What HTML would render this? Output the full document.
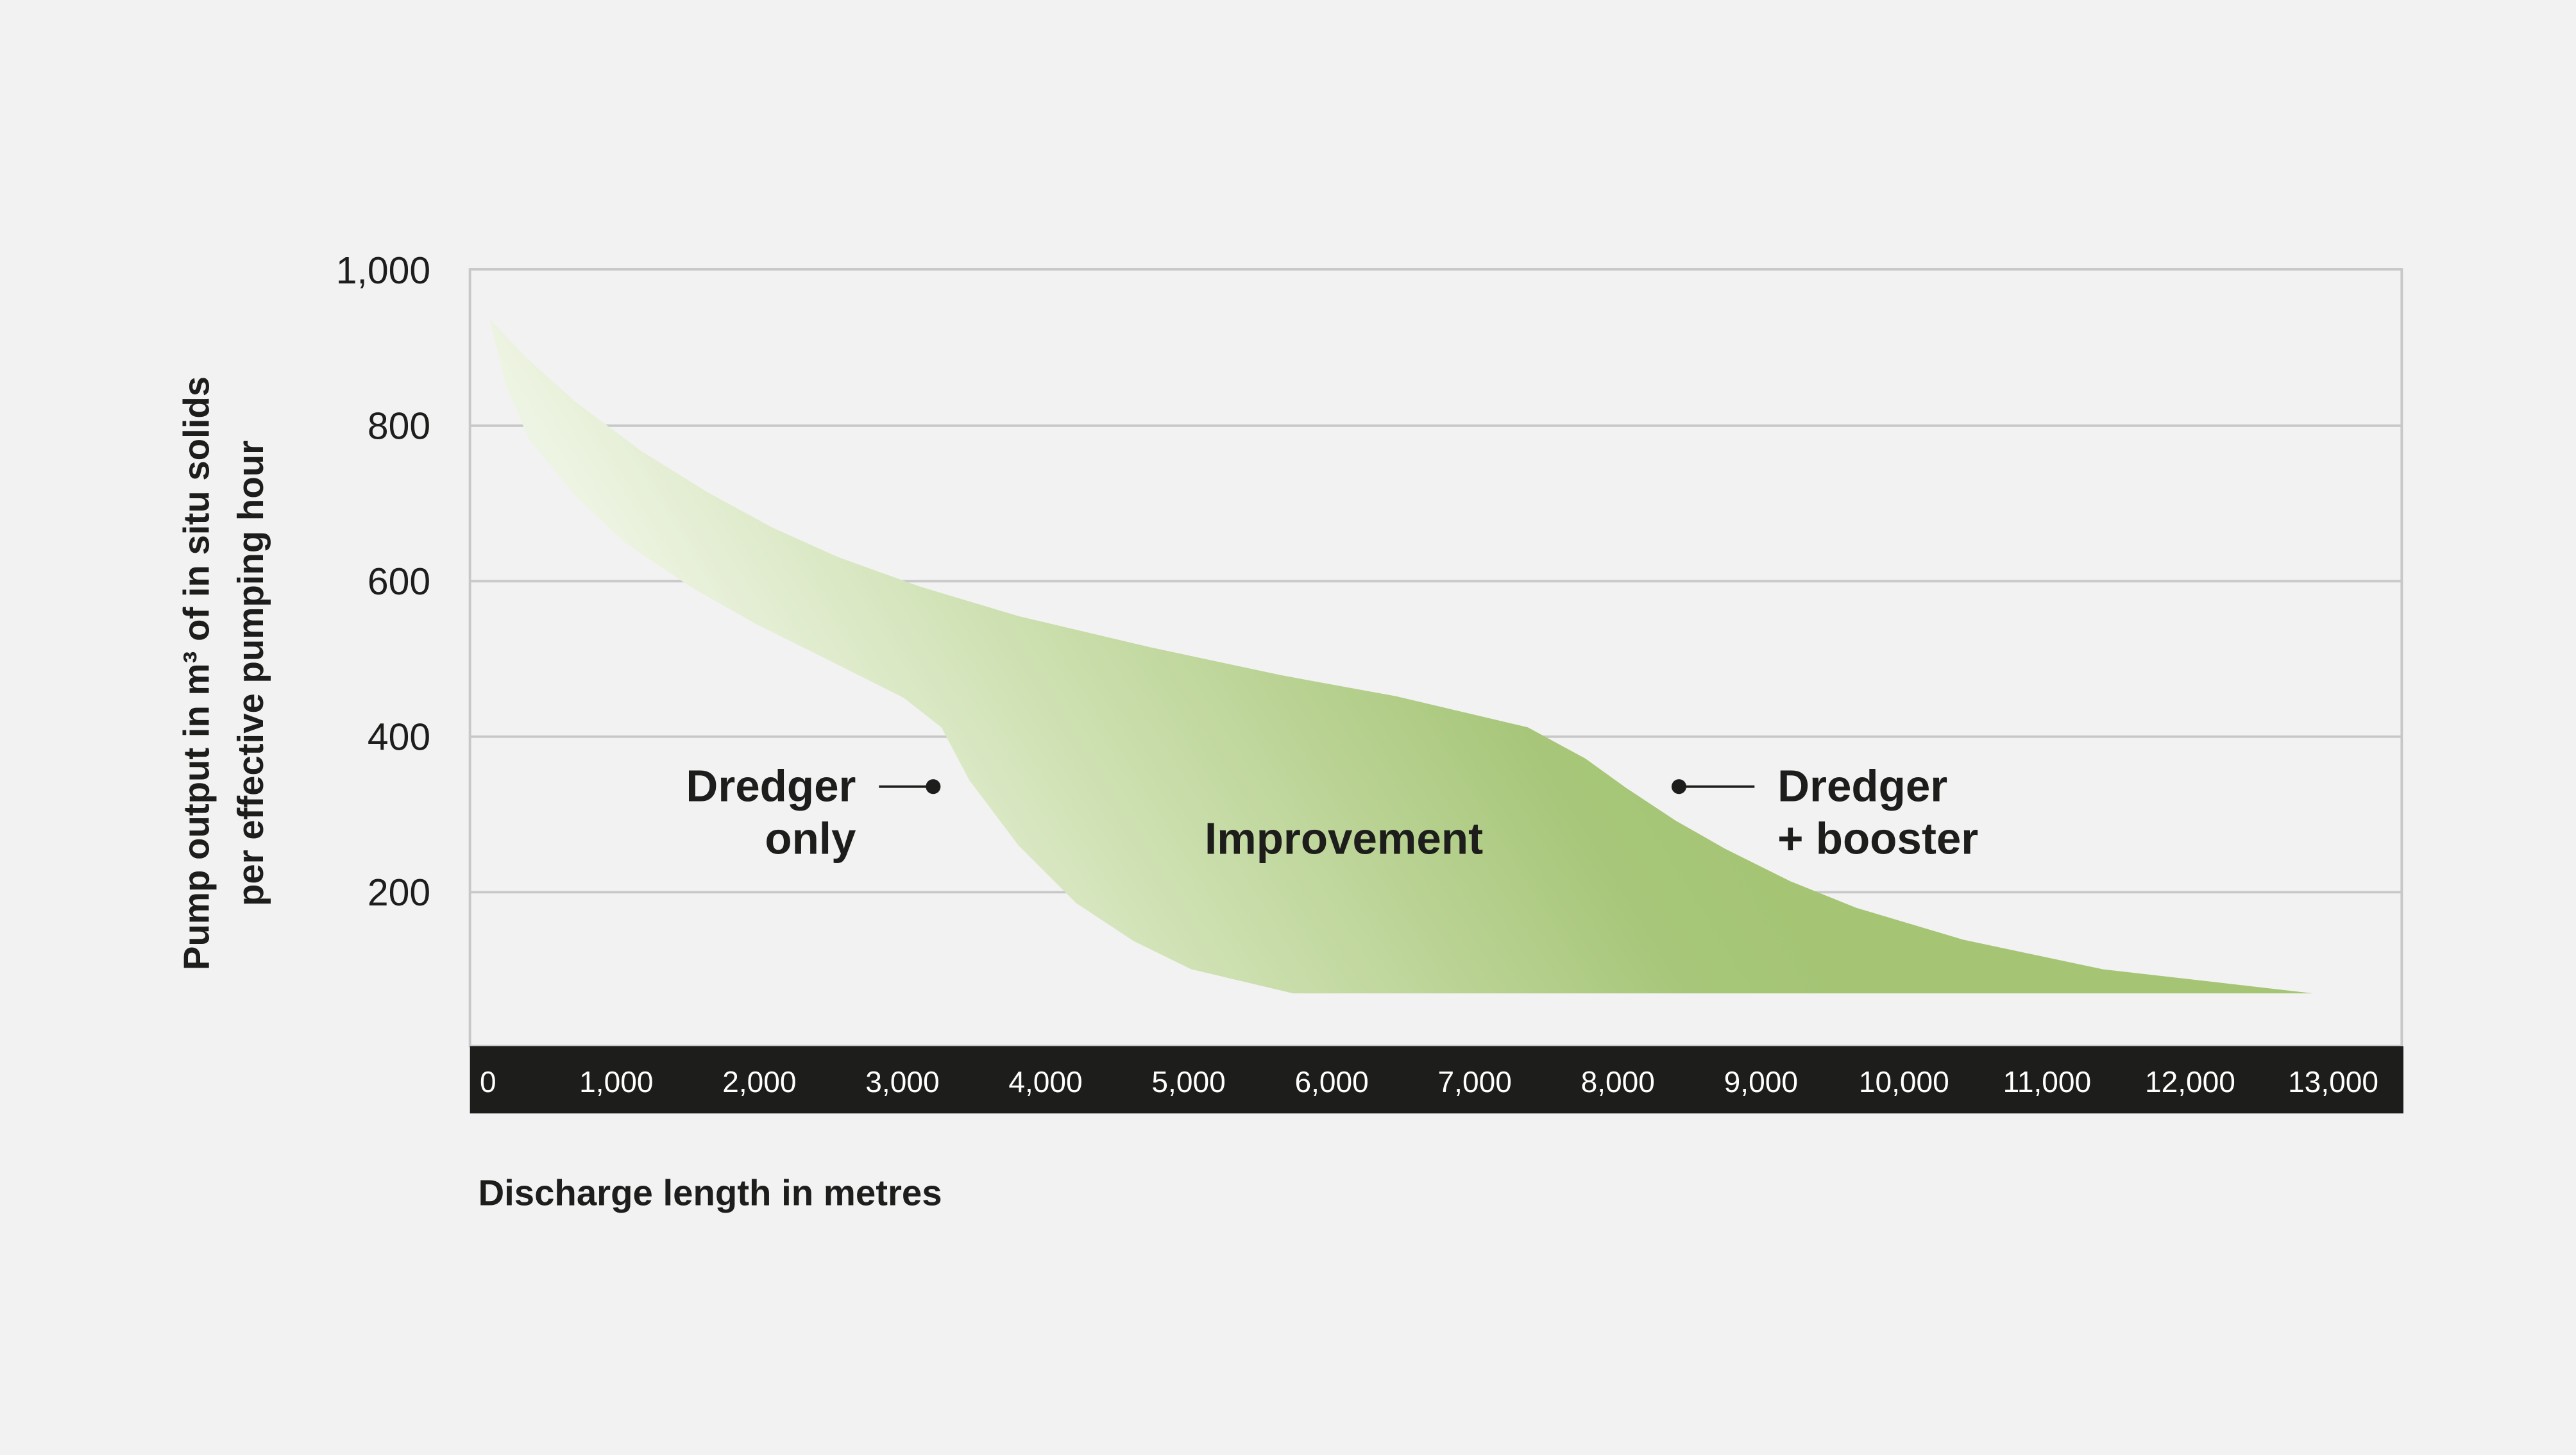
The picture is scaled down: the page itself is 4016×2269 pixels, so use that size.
<!DOCTYPE html>
<html><head><meta charset="utf-8"><style>
html,body{margin:0;padding:0;background:#f2f2f2;}
svg{display:block;font-family:"Liberation Sans",sans-serif;}
</style></head><body>
<svg id="chart" width="4016" height="2269" viewBox="0 0 1568 886" xmlns="http://www.w3.org/2000/svg">
<defs>
<linearGradient id="grad" gradientUnits="userSpaceOnUse" x1="560" y1="640" x2="980" y2="380">
<stop offset="0" stop-color="#eef4e3"/>
<stop offset="0.35" stop-color="#cfe1b3"/>
<stop offset="0.85" stop-color="#a7c679"/>
<stop offset="1" stop-color="#a5c575"/>
</linearGradient>
</defs>
<rect x="0" y="0" width="1568" height="886" fill="#f2f2f2"/>
<g id="grid"></g>
<path id="area" fill="url(#grad)"/>
<rect x="286" y="164" width="1176" height="473" fill="none" stroke="#c8c8c8" stroke-width="1.5"/>
<rect x="286" y="637" width="1177" height="41" fill="#1d1d1b"/>
<g id="xticks"></g>
<g id="yticks"></g>
<g font-size="22" font-weight="600" fill="#1d1d1b" text-anchor="middle">
<text transform="translate(127,410) rotate(-90)">Pump output in m³ of in situ solids</text>
<text transform="translate(160,410) rotate(-90)">per effective pumping hour</text>
</g>
<text x="291" y="734" font-size="22" font-weight="600" fill="#1d1d1b">Discharge length in metres</text>
<g font-size="27" font-weight="600" fill="#1d1d1b" text-anchor="end">
<text x="521" y="488">Dredger</text><text x="521" y="520">only</text>
</g>
<line x1="535" y1="479" x2="568" y2="479" stroke="#1d1d1b" stroke-width="1.5"/>
<circle cx="568" cy="479" r="4.5" fill="#1d1d1b"/>
<g font-size="27" font-weight="600" fill="#1d1d1b">
<text x="1082" y="488">Dredger</text><text x="1082" y="520">+ booster</text>
</g>
<line x1="1022" y1="479" x2="1068" y2="479" stroke="#1d1d1b" stroke-width="1.5"/>
<circle cx="1022" cy="479" r="4.5" fill="#1d1d1b"/>
<text x="818" y="520" font-size="27" font-weight="600" fill="#1d1d1b" text-anchor="middle">Improvement</text>
</svg>
<script>
const xTicks = [0,1000,2000,3000,4000,5000,6000,7000,8000,9000,10000,11000,12000,13000];
const yTicks = [200,400,600,800,1000];
const boosterX = [115,367,712,1171,1630,2090,2549,3123,3812,4730,5649,6452,7371,7773,8060,8404,8749,9208,9667,10413,11389,12859];
const boosterY = [938,888,831,768,715,669,631,593,555,515,479,452,412,372,334,292,256,214,180,139,101,70];
const onlyX = [115,230,390,712,1056,1515,1975,2434,3008,3272,3467,3812,4214,4616,5018,5730,12859];
const onlyY = [938,851,782,710,650,593,545,503,450,412,344,260,186,137,101,70,70];

const NS = "http://www.w3.org/2000/svg";
function sx(v){ return 288 + v*0.0871; }
function sy(v){ return 638 - v*0.4735; }
function fmt(v){ return v.toLocaleString('en-US'); }

const grid = document.getElementById('grid');
const yt = document.getElementById('yticks');
yTicks.forEach(v=>{
  if(v<1000){
    const l = document.createElementNS(NS,'line');
    
    
    l.setAttribute('x1',286); l.setAttribute('x2',1462);
    l.setAttribute('y1',sy(v)); l.setAttribute('y2',sy(v));
    l.setAttribute('stroke','#c8c8c8'); l.setAttribute('stroke-width','1.5');
    grid.appendChild(l);
  }
  const t = document.createElementNS(NS,'text');
  
  
  t.setAttribute('x',262); t.setAttribute('y',sy(v)+8);
  t.setAttribute('text-anchor','end'); t.setAttribute('font-size','23');
  t.setAttribute('fill','#1d1d1b');
  t.textContent = fmt(v);
  yt.appendChild(t);
});
const xt = document.getElementById('xticks');
xTicks.forEach(v=>{
  const t = document.createElementNS(NS,'text');
  
  
  if(v===0){ t.setAttribute('x',292); t.setAttribute('text-anchor','start'); }
  else { t.setAttribute('x',sx(v)); t.setAttribute('text-anchor','middle'); }
  t.setAttribute('y',665); t.setAttribute('font-size','18');
  t.setAttribute('fill','#ffffff');
  t.textContent = fmt(v);
  xt.appendChild(t);
});
let d = '';
boosterX.forEach((x,i)=>{ d += (i?'L':'M') + sx(x).toFixed(1) + ',' + sy(boosterY[i]).toFixed(1); });
for(let i=onlyX.length-1;i>=0;i--){ d += 'L' + sx(onlyX[i]).toFixed(1) + ',' + sy(onlyY[i]).toFixed(1); }
d += 'Z';
document.getElementById('area').setAttribute('d', d);
</script>
</body></html>
